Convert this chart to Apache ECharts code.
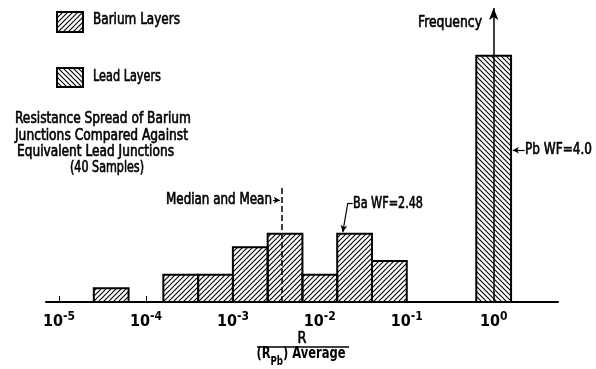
<!DOCTYPE html>
<html><head><meta charset="utf-8">
<script src="https://cdn.jsdelivr.net/npm/echarts@6/dist/echarts.min.js"></script>
<style>html,body{margin:0;padding:0;background:#fff}#c{width:596px;height:369px}</style>
</head><body><div id="c"></div>
<script>
// ---- data (x in log10 of R/(R_Pb)avg) ----
const binWidth = 0.4;
const baBinStart = [-4.6, -3.8, -3.4, -3.0, -2.6, -2.2, -1.8, -1.4];
const baCounts   = [1, 2, 2, 4, 5, 2, 5, 3];
const pbBinStart = [-0.2];
const pbCounts   = [18];
const tickExponents = [-5, -4, -3, -2, -1, 0];
const minorTicks = [-5, -4];
const medianMean = -2.44;
const baWF = '2.48', pbWF = '4.0';

const FONT = "'DejaVu Sans Condensed','Liberation Sans Narrow',sans-serif";
const INK = 0.6;

function hatch(dir){
  const c=document.createElement('canvas'); c.width=c.height=5;
  const g=c.getContext('2d'); g.strokeStyle='#000'; g.lineWidth=1.1; g.beginPath();
  if(dir>0){ g.moveTo(0,5);g.lineTo(5,0); g.moveTo(-1,1);g.lineTo(1,-1); g.moveTo(4,6);g.lineTo(6,4); }
  else { g.moveTo(0,0);g.lineTo(5,5); g.moveTo(4,-1);g.lineTo(6,1); g.moveTo(-1,4);g.lineTo(1,6); }
  g.stroke(); return c;
}
const baPat = {image: hatch(1), repeat:'repeat'};
const pbPat = {image: hatch(-1), repeat:'repeat'};

function binData(starts, counts){ return starts.map((s,i)=>[s, s+binWidth, counts[i]]); }
function barRenderer(pat){
  return function(params, api){
    const p0 = api.coord([api.value(0), 0]);
    const p1 = api.coord([api.value(1), api.value(2)]);
    return {type:'rect', shape:{x:p0[0], y:p1[1], width:p1[0]-p0[0], height:p0[1]-p1[1]},
      style:{fill:pat, stroke:'#000', lineWidth:2}};
  };
}

const mctx = document.createElement('canvas').getContext('2d');
function fitText(t, x, y, size, targetW, align){
  mctx.font = size + 'px ' + FONT;
  const w = mctx.measureText(t).width;
  return {type:'text', x, y, scaleX: targetW / w,
    style:{text:t, fontSize:size, fontFamily:FONT, fill:'#000', stroke:'#000', lineWidth:INK,
      align:align||'left', verticalAlign:'middle'}};
}

const chart = echarts.init(document.getElementById('c'));
const lbl = {fontFamily:FONT, fontWeight:'bold', color:'#000'};

chart.setOption({
  animation:false,
  grid:{left:46, right:38, top:8, bottom:67},
  xAxis:{type:'value', min:-5.15, max:0.74,
    axisLine:{lineStyle:{color:'#000', width:2}},
    splitLine:{show:false},
    axisTick:{show:true, inside:true, length:6, customValues:minorTicks, lineStyle:{color:'#000', width:1}},
    axisLabel:{customValues:tickExponents, margin:9,
      formatter:v=>'{b|10}{s|'+v+'}',
      rich:{b:Object.assign({fontSize:16, lineHeight:19, verticalAlign:'bottom'}, lbl),
            s:Object.assign({fontSize:12, lineHeight:12, verticalAlign:'top'}, lbl)}}
  },
  yAxis:{type:'value', min:0, max:21.5, show:false},
  series:[
    {type:'custom', name:'Barium Layers', renderItem:barRenderer(baPat), data:binData(baBinStart, baCounts), z:3},
    {type:'custom', name:'Lead Layers', renderItem:barRenderer(pbPat), data:binData(pbBinStart, pbCounts), z:3},
    {type:'line', data:[], z:5,
      markLine:{silent:true, animation:false, label:{show:false},
        data:[
          [{coord:[medianMean,0], lineStyle:{type:[6,3], width:1.5, color:'#000'}, symbol:'none'},
           {coord:[medianMean,8.5], symbol:'none'}],
          [{coord:[0,0], lineStyle:{type:'solid', width:1.5, color:'#000'}, symbol:'none'},
           {coord:[0,21.5], symbol:'arrow', symbolSize:[7,12]}],
          [{coord:[-2.54,7.45], lineStyle:{type:'solid', width:1.2, color:'#000'}, symbol:'none'},
           {coord:[medianMean-0.02,7.45], symbol:'arrow', symbolSize:[5,6]}],
          [{coord:[0.356,11.1], lineStyle:{type:'solid', width:1.2, color:'#000'}, symbol:'none'},
           {coord:[0.22,11.1], symbol:'arrow', symbolSize:[5,6]}],
          [{coord:[-1.621,7.24], lineStyle:{type:'solid', width:1.2, color:'#000'}, symbol:'none'},
           {coord:[-1.678,7.24], symbol:'none'}],
          [{coord:[-1.678,7.24], lineStyle:{type:'solid', width:1.2, color:'#000'}, symbol:'none'},
           {coord:[-1.736,5.1], symbol:'arrow', symbolSize:[5,7]}]
        ]}}
  ],
  graphic:[
    {type:'rect', shape:{x:57, y:12, width:26, height:20}, style:{fill:baPat, stroke:'#000', lineWidth:2}},
    fitText('Barium Layers', 93, 20, 16, 87),
    {type:'rect', shape:{x:57, y:68, width:26, height:19}, style:{fill:pbPat, stroke:'#000', lineWidth:2}},
    fitText('Lead Layers', 93, 77, 16, 68),
    fitText('Resistance Spread of Barium', 15, 119, 15, 176),
    fitText('Junctions Compared Against', 15, 136, 15, 173),
    fitText('Equivalent Lead Junctions', 17, 152, 15, 157),
    fitText('(40 Samples)', 70, 168, 15, 74),
    fitText('Frequency', 418, 23, 16, 64),
    fitText('Median and Mean', 272, 200, 15, 106, 'right'),
    fitText('Ba WF=' + baWF, 353, 204, 15, 70),
    fitText('Pb WF=' + pbWF, 525, 150, 15, 67),
    fitText('R', 302, 339, 16, 9, 'center'),
    {type:'line', shape:{x1:257, y1:347, x2:349, y2:347}, style:{stroke:'#000', lineWidth:1.3}},
    {type:'text', x:301, y:357, scaleX:0.8, style:{text:'{a|(R}{sub|Pb}{a|) Average}', fontFamily:FONT, fontWeight:'bold', fill:'#000', align:'center', verticalAlign:'middle',
      rich:{a:{fontSize:16, fontWeight:'bold', fontFamily:FONT, lineHeight:16, verticalAlign:'top'},
            sub:{fontSize:12, fontWeight:'bold', fontFamily:FONT, lineHeight:22, verticalAlign:'bottom'}}}}
  ]
});
</script></body></html>
